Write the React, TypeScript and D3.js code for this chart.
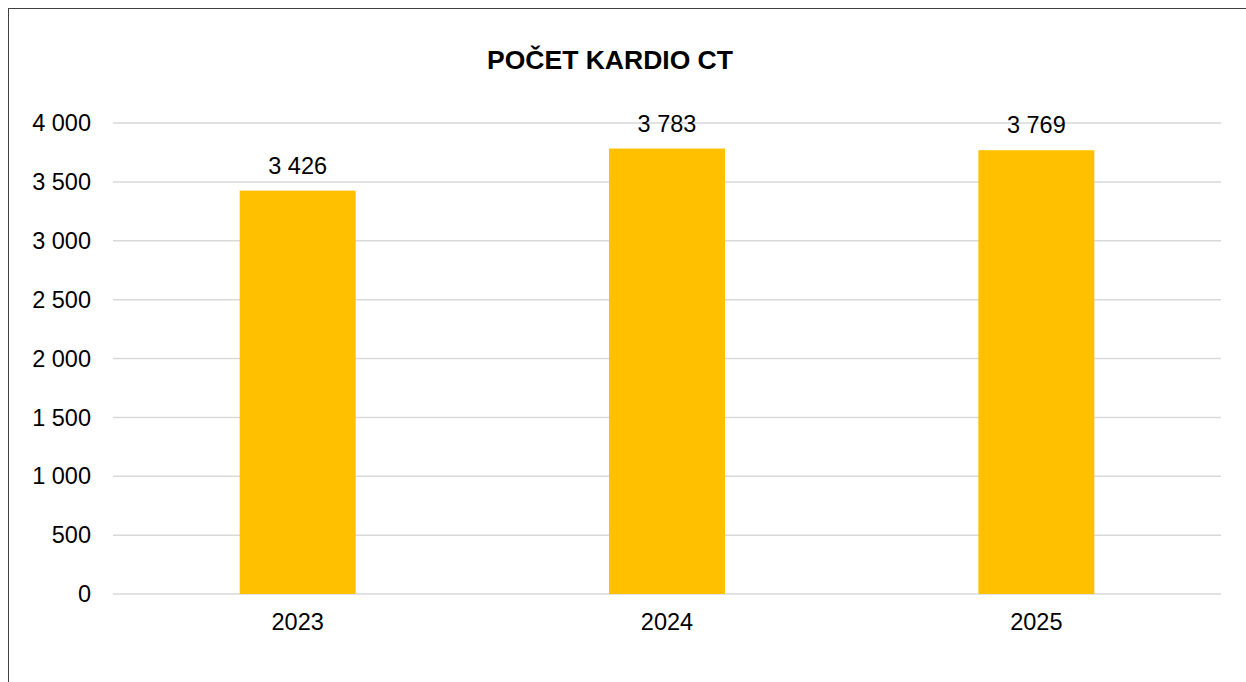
import React from 'react';
import * as d3 from 'd3';

const years = ['2023', '2024', '2025'];
const counts = [3426, 3783, 3769];
const yTicks = [0, 500, 1000, 1500, 2000, 2500, 3000, 3500, 4000];

const W = 1246;
const H = 682;
const margin = { top: 123, right: 25, bottom: 88, left: 113 };

const fmt = (v: number) => d3.format(',')(v).replace(/,/g, '\u00a0');

const App = () => {
  const innerW = W - margin.left - margin.right;
  const innerH = H - margin.top - margin.bottom;

  const x = d3.scaleBand().domain(years).range([0, innerW]).padding(0);
  const y = d3.scaleLinear().domain([0, 4000]).range([innerH, 0]);
  const barW = x.bandwidth() * 0.314;

  return (
    <svg
      width={W}
      height={H}
      style={{ position: 'fixed', left: 0, top: 0, background: '#fff' }}
      fontFamily="'Liberation Sans', Arial, sans-serif"
    >
      <rect x={8.5} y={8.5} width={W + 10} height={H + 10} fill="#fff" stroke="#404040" strokeWidth={1} />
      <text x={610} y={69} textAnchor="middle" fontSize={26.5} fontWeight="bold" fill="#000">
        POČET KARDIO CT
      </text>
      <g transform={`translate(${margin.left},${margin.top})`}>
        {yTicks.map(t => (
          <g key={t} transform={`translate(0,${y(t)})`}>
            <line x1={0} x2={innerW} stroke="#d9d9d9" strokeWidth={1.5} />
            <text x={-22} dy="0.35em" textAnchor="end" fontSize={23.5} fill="#000">
              {fmt(t)}
            </text>
          </g>
        ))}
        {years.map((yr, i) => {
          const cx = (x(yr) as number) + x.bandwidth() / 2;
          return (
            <g key={yr}>
              <rect x={cx - barW / 2} y={y(counts[i])} width={barW} height={innerH - y(counts[i])} fill="#ffc000" />
              <text x={cx} y={y(counts[i]) - 17} textAnchor="middle" fontSize={23.5} fill="#000">
                {fmt(counts[i])}
              </text>
              <text x={cx} y={innerH + 36} textAnchor="middle" fontSize={23.5} fill="#000">
                {yr}
              </text>
            </g>
          );
        })}
      </g>
    </svg>
  );
};

export default App;
